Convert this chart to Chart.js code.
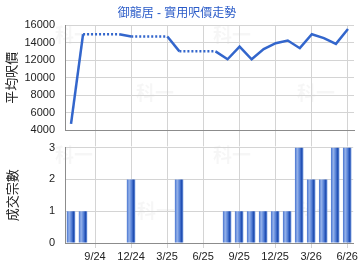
<!DOCTYPE html>
<html>
<head>
<meta charset="utf-8">
<script src="https://cdn.jsdelivr.net/npm/chart.js@4.4.1/dist/chart.umd.min.js"></script>
<style>
  body { margin: 0; background: #fff; }
  #wrap { position: relative; width: 360px; height: 270px; overflow: hidden; }
  #priceBox { position: absolute; left: 0; top: 0; width: 360px; height: 147px; }
  #countBox { position: absolute; left: 0; top: 131px; width: 360px; height: 139px; }
</style>
</head>
<body>
<div id="wrap">
  <div id="priceBox"><canvas id="priceChart"></canvas></div>
  <div id="countBox"><canvas id="countChart"></canvas></div>
</div>
<script>
'use strict';

//Months shown on the x axis (one per category)
let months = ['7/24','8/24','9/24','10/24','11/24','12/24','1/25','2/25','3/25','4/25','5/25','6/25','7/25','8/25','9/25','10/25','11/25','12/25','1/26','2/26','3/26','4/26','5/26','6/26'];
//Average price per sq ft (flat parts are the dotted carry-over)
let priceValues = [4750,14950,14950,14950,14950,14700,14700,14700,14700,13000,13000,13000,13000,12100,13550,12100,13250,13930,14230,13360,14950,14500,13850,15550];
//Number of deals each month
let dealCounts = [1,1,0,0,0,2,0,0,0,2,0,0,0,1,1,1,1,1,1,3,2,2,3,3];
let priceTicks = [4000,6000,8000,10000,12000,14000,16000];
let countTicks = [0,1,2,3];
let labelMonths = ['9/24','12/24','3/25','6/25','9/25','12/25','3/26','6/26'];

const chartTitle = '御龍居 - 實用呎價走勢';
const fontFamily = "'Liberation Sans', Arial, 'Noto Sans CJK TC', sans-serif";
const gridGrey = '#d4d4d4';
const axisGrey = '#8c8c8c';
const lineBlue = '#3366cc';

//only every third month gets a label and a grid line
function isLabelMonth(index) {
  return labelMonths.indexOf(months[index]) !== -1;
}

//Faint "科一" watermark like the original site stamps on its charts
function makeWatermark(spots) {
  return {
    id: 'watermark',
    beforeDraw(chart) {
      let ctx = chart.ctx;
      ctx.save();
      ctx.font = "bold 19px 'Noto Sans CJK TC', sans-serif";
      ctx.fillStyle = 'rgba(0,0,0,0.035)';
      ctx.textBaseline = 'middle';
      for (let i = 0; i < spots.length; i++) {
        ctx.fillText('科一', spots[i][0], spots[i][1]);
      }
      ctx.restore();
    }
  };
}

function xGridColor(context) {
  return isLabelMonth(context.index) ? gridGrey : 'rgba(0,0,0,0)';
}

//bars have a shiny cylinder look, so every bar gets its own gradient
function barGradient(context) {
  let chart = context.chart;
  let xScale = chart.scales.x;
  if (!xScale || context.dataIndex === undefined) {
    return lineBlue;
  }
  let centre = xScale.getPixelForValue(context.dataIndex);
  if (!isFinite(centre)) {
    return lineBlue; //scale not laid out yet on the first pass
  }
  let half = 4.2;
  let grad = chart.ctx.createLinearGradient(centre - half, 0, centre + half, 0);
  grad.addColorStop(0, '#4673cf');
  grad.addColorStop(0.28, '#95b2ea');
  grad.addColorStop(0.55, '#5a84d8');
  grad.addColorStop(0.8, '#1f4db2');
  grad.addColorStop(1, '#7096dc');
  return grad;
}

function plainNumber(value) {
  return String(value);
}

Chart.defaults.font.family = fontFamily;
Chart.defaults.animation = false;

const priceChart = new Chart(document.getElementById('priceChart'), {
  type: 'line',
  data: {
    labels: months,
    datasets: [{
      data: priceValues,
      borderColor: lineBlue,
      borderWidth: 2.5,
      pointRadius: 0,
      tension: 0,
      fill: false,
      segment: {
        //months without deals are drawn dotted
        borderDash: ctx => dealCounts[ctx.p1DataIndex] === 0 ? [2, 2] : undefined
      }
    }]
  },
  options: {
    responsive: true,
    maintainAspectRatio: false,
    layout: { padding: { left: 0, right: 6, top: 0, bottom: 0 } },
    plugins: {
      legend: { display: false },
      tooltip: { enabled: false },
      title: {
        display: true,
        text: chartTitle,
        color: '#2a5bc8',
        font: { size: 12, weight: 'normal' },
        padding: { top: 6, bottom: 4.6 }
      }
    },
    scales: {
      x: {
        offset: true,
        grid: { offset: false, color: xGridColor, tickLength: 16, drawTicks: true },
        border: { color: axisGrey, width: 1 },
        ticks: { display: false, autoSkip: false },
        afterFit: scale => { scale.height = 16; }
      },
      y: {
        min: 4000,
        max: 16000,
        afterBuildTicks: scale => { scale.ticks = priceTicks.map(v => ({ value: v })); },
        grid: { color: gridGrey, drawTicks: false },
        border: { color: axisGrey, width: 1 },
        ticks: { color: '#222', font: { size: 11 }, padding: 10, callback: plainNumber },
        title: {
          display: true,
          text: '平均呎價',
          color: '#222',
          font: { size: 13 },
          padding: { top: 5, bottom: 0 }
        },
        afterFit: scale => { scale.width = 65; }
      }
    }
  },
  plugins: [makeWatermark([[55, 35], [213, 35], [136, 93], [297, 93]])]
});

const countChart = new Chart(document.getElementById('countChart'), {
  type: 'bar',
  data: {
    labels: months,
    datasets: [{
      data: dealCounts,
      backgroundColor: barGradient,
      borderWidth: 0,
      barPercentage: 0.7,
      categoryPercentage: 1
    }]
  },
  options: {
    responsive: true,
    maintainAspectRatio: false,
    layout: { padding: { left: 0, right: 6, top: 16, bottom: 0 } },
    plugins: {
      legend: { display: false },
      tooltip: { enabled: false }
    },
    scales: {
      x: {
        offset: true,
        grid: { offset: false, color: xGridColor, tickLength: 5 },
        border: { color: axisGrey, width: 1 },
        ticks: {
          autoSkip: false,
          maxRotation: 0,
          padding: 2,
          color: '#222',
          font: { size: 11 },
          callback: function(value, index) {
            return isLabelMonth(index) ? months[index] : '';
          }
        },
        afterFit: scale => { scale.height = 27; }
      },
      y: {
        min: 0,
        max: 3,
        afterBuildTicks: scale => { scale.ticks = countTicks.map(v => ({ value: v })); },
        grid: { color: gridGrey, drawTicks: false },
        border: { color: axisGrey, width: 1 },
        ticks: { color: '#222', font: { size: 11 }, padding: 10, callback: plainNumber },
        title: {
          display: true,
          text: '成交宗數',
          color: '#222',
          font: { size: 13 },
          padding: { top: 6, bottom: 0 }
        },
        afterFit: scale => { scale.width = 65; }
      }
    }
  },
  plugins: [makeWatermark([[55, 24], [213, 24], [137, 80], [297, 80]])]
});
</script>
</body>
</html>
